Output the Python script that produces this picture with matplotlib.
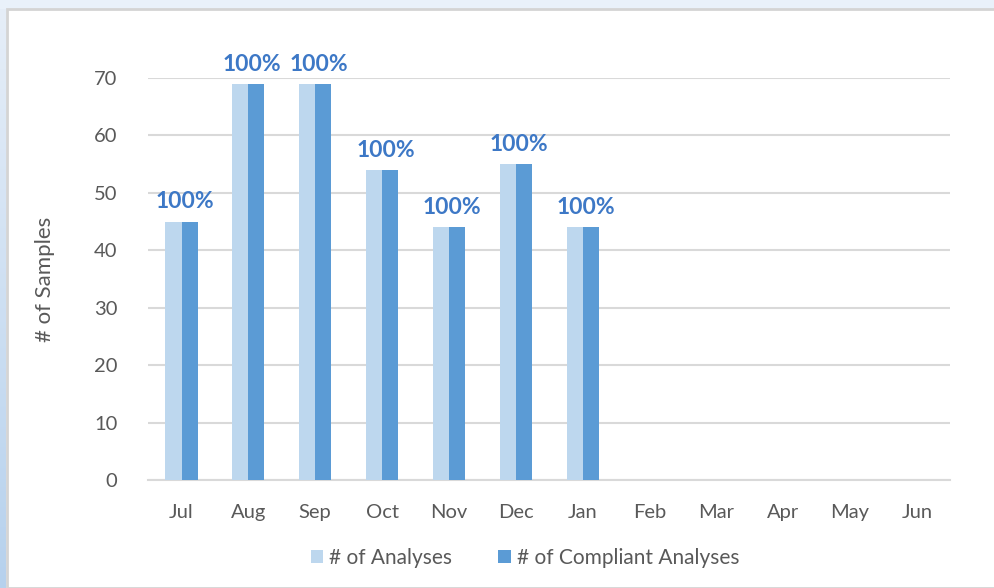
import numpy as np
import matplotlib.pyplot as plt
from matplotlib.patches import Rectangle
from matplotlib.colors import LinearSegmentedColormap

plt.rcParams['font.family'] = ['Lato', 'DejaVu Sans']

#data
months = ["Jul", "Aug", "Sep", "Oct", "Nov", "Dec", "Jan", "Feb", "Mar", "Apr", "May", "Jun"]
analyses = [45, 69, 69, 54, 44, 55, 44, 0, 0, 0, 0, 0]
compliant = [45, 69, 69, 54, 44, 55, 44, 0, 0, 0, 0, 0]
pct_labels = ["100%", "100%", "100%", "100%", "100%", "100%", "100%"]

fig = plt.figure(figsize=(9.94, 5.88), dpi=100)
fig.patch.set_facecolor("#E9F1FA")

#white chart panel with a thin gray frame
fig.patches.append(Rectangle((0.007, 0.0), 1.0, 0.985, transform=fig.transFigure,
                             facecolor="white", edgecolor="#D4D4D4", linewidth=2, zorder=-2))

#gradient strip on the left edge
strip = fig.add_axes([0.0, 0.0, 0.006, 0.985])
strip.set_zorder(-1)
grad = LinearSegmentedColormap.from_list("strip", ["#B6D1ED", "#E6EEF8"])
strip.imshow(np.linspace(0, 1, 256).reshape(-1, 1), aspect="auto", cmap=grad, origin="lower")
strip.axis("off")

ax = fig.add_axes([0.149, 0.1837, 0.807, 0.6837])
ax.set_zorder(1)
ax.set_facecolor("white")

x = np.arange(len(months))
w = 0.24
ax.bar(x - w/2, analyses, w, color="#BDD7EE", label="# of Analyses", zorder=3)
ax.bar(x + w/2, compliant, w, color="#5B9BD5", label="# of Compliant Analyses", zorder=3)

for i, lab in enumerate(pct_labels):
    ax.text(x[i] + 0.05, max(analyses[i], compliant[i]) + 1.6, lab, ha="center", va="bottom",
            fontsize=16.5, fontweight="bold", color="#3D78C6", clip_on=False)

ax.set_xlim(-0.5, len(months) - 0.5)
ax.set_ylim(0, 70)
ax.set_yticks(range(0, 71, 10))
ax.set_xticks(x)
ax.set_xticklabels(months)
ax.grid(axis="y", color="#D9D9D9", linewidth=1.5, zorder=0)
for s in ["top", "right", "left"]:
    ax.spines[s].set_visible(False)
ax.spines["bottom"].set_color("#D9D9D9")
ax.spines["bottom"].set_linewidth(1.5)
ax.tick_params(length=0, labelsize=14.5, labelcolor="#595959", pad=17)
ax.tick_params(axis="y", pad=22)
ax.set_ylabel("# of Samples", fontsize=16, color="#595959", labelpad=28)

ax.legend(loc="upper center", bbox_to_anchor=(0.47, -0.122), ncol=2, frameon=False,
          fontsize=15, labelcolor="#595959", handlelength=0.6, handleheight=0.6,
          handletextpad=0.3, columnspacing=2.2)

fig.savefig("out.png", dpi=100)
